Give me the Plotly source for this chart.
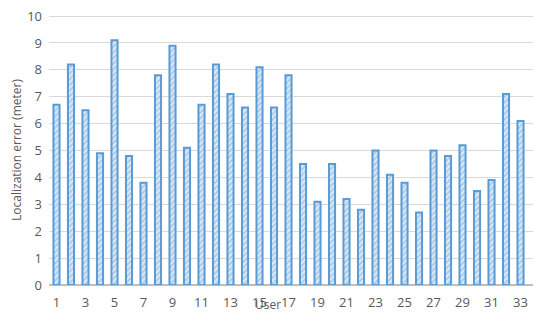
import plotly.graph_objects as go

users = list(range(1, 34))
errors = [6.7, 8.2, 6.5, 4.9, 9.1, 4.8, 3.8, 7.8, 8.9, 5.1, 6.7, 8.2, 7.1, 6.6, 8.1, 6.6, 7.8,
          4.5, 3.1, 4.5, 3.2, 2.8, 5.0, 4.1, 3.8, 2.7, 5.0, 4.8, 5.2, 3.5, 3.9, 7.1, 6.1]
x_ticks = list(range(1, 34, 2))
y_ticks = list(range(0, 11))

# page body has an 8px default margin; compensate so the plot lands at the reference pixels
OFF = 8
W, H = 550 - OFF, 317 - OFF
L, R, T, B = 49 - OFF, 17, 15 - OFF, 32

fig = go.Figure(go.Bar(
    x=users, y=errors,
    marker=dict(color="#dbe9f7",
                line=dict(color="#5b9bd5", width=2),
                pattern=dict(shape="/", fgcolor="#6fa6d9", bgcolor="#dbe9f7", size=4, solidity=0.4)),
    width=0.42,
))

pw = W - L - R
ph = H - T - B

fig.update_layout(
    width=W, height=H,
    margin=dict(l=L, r=R, t=T, b=B),
    plot_bgcolor="white", paper_bgcolor="white",
    font=dict(family="Open Sans, Liberation Sans, sans-serif", color="#595959", size=12),
    showlegend=False,
    xaxis=dict(tickmode="array", tickvals=x_ticks, ticktext=[str(v) for v in x_ticks],
               range=[0.483, 33.86], showgrid=False, showline=False, ticks="",
               automargin=False, ticklabelstandoff=8, ticklabeloverflow="allow",
               tickfont=dict(size=13, color="#595959")),
    yaxis=dict(range=[0, 10.04], tickvals=y_ticks, showgrid=True, gridcolor="#d9d9d9", gridwidth=1,
               zeroline=True, zerolinecolor="#bfbfbf", zerolinewidth=2,
               ticks="", tickfont=dict(size=13, color="#595959"), automargin=False,
               ticklabelstandoff=6, ticklabeloverflow="allow",
               title=dict(text="Localization error (meter)", font=dict(size=12, color="#595959"), standoff=4)),
    annotations=[dict(text="User", x=(268 - 49) / pw, y=(317 - 32 - 305) / ph,
                      xref="paper", yref="paper",
                      xanchor="center", yanchor="middle", showarrow=False,
                      font=dict(size=12, color="#595959"))],
)

fig.write_html("out.html")
